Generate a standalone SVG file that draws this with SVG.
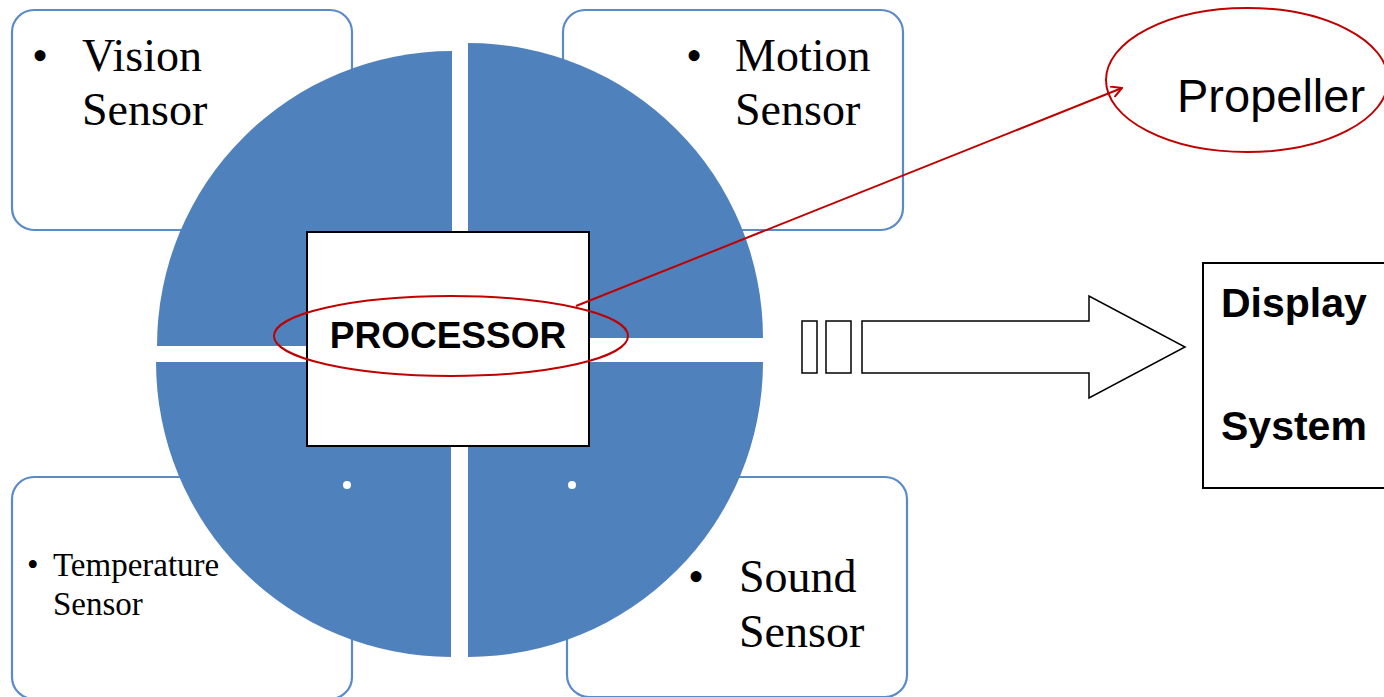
<svg xmlns="http://www.w3.org/2000/svg" width="1384" height="697" viewBox="0 0 1384 697">
  <style>
    .sbox { fill: #ffffff; stroke: #5B8BC7; stroke-width: 2.2; }
    .quad { fill: #4F81BD; }
    .serif { font-family: "Liberation Serif", "DejaVu Serif", serif; fill: #000; }
    .big { font-size: 46px; }
    .small { font-size: 33px; }
    .bold { font-family: "Liberation Sans", Arial, sans-serif; font-weight: bold; fill: #000; }
    .red { fill: none; stroke: #C00000; stroke-width: 2; }
    .blk { fill: #ffffff; stroke: #000; stroke-width: 2; }
  </style>
  <defs>
    <marker id="openArrow" markerWidth="12" markerHeight="12" refX="11" refY="6" orient="auto" markerUnits="userSpaceOnUse" viewBox="0 0 12 12">
      <path d="M0,0 L11,6 L0,12" fill="none" stroke="#C00000" stroke-width="2"/>
    </marker>
  </defs>
  <rect width="1384" height="697" fill="#ffffff"/>

  <g id="vision-sensor">
    <rect class="sbox" x="12" y="10" width="340" height="220" rx="22"/>
    <text class="serif big" x="32" y="71">•</text>
    <text class="serif big" x="82" y="71">Vision</text>
    <text class="serif big" x="82" y="125">Sensor</text>
  </g>
  <g id="motion-sensor">
    <rect class="sbox" x="563" y="10" width="340" height="220" rx="22"/>
    <text class="serif big" x="686" y="71">•</text>
    <text class="serif big" x="735" y="71">Motion</text>
    <text class="serif big" x="735" y="125">Sensor</text>
  </g>
  <g id="temperature-sensor">
    <rect class="sbox" x="12" y="477" width="340" height="222" rx="22"/>
    <text class="serif small" x="27" y="576">•</text>
    <text class="serif small" x="53" y="576">Temperature</text>
    <text class="serif small" x="53" y="615">Sensor</text>
  </g>
  <g id="sound-sensor">
    <rect class="sbox" x="567" y="477" width="340" height="220" rx="22"/>
    <text class="serif big" x="688" y="592">•</text>
    <text class="serif big" x="739" y="592">Sound</text>
    <text class="serif big" x="739" y="647">Sensor</text>
  </g>

  <g id="circle">
    <path class="quad" d="M452,346 L157,346 A295,295 0 0 1 452,51 Z"/>
    <path class="quad" d="M468,338 L468,43 A295,295 0 0 1 763,338 Z"/>
    <path class="quad" d="M451,362 L451,657 A295,295 0 0 1 156,362 Z"/>
    <path class="quad" d="M468,362 L763,362 A295,295 0 0 1 468,657 Z"/>
    <circle cx="347" cy="485" r="4" fill="#fff"/>
    <circle cx="572" cy="485" r="4" fill="#fff"/>
  </g>

  <g id="processor">
    <rect class="blk" x="307" y="232" width="282" height="214"/>
    <text class="bold" x="448" y="348" font-size="37" text-anchor="middle">PROCESSOR</text>
    <ellipse class="red" cx="451" cy="336" rx="177" ry="40"/>
  </g>

  <g id="propeller">
    <ellipse class="red" cx="1247" cy="80" rx="141" ry="72"/>
    <text x="1177" y="112" font-family="Liberation Sans, Arial, sans-serif" font-size="47" fill="#000">Propeller</text>
  </g>

  <g id="display-system">
    <rect class="blk" x="1203" y="263" width="190" height="225"/>
    <text class="bold" x="1221" y="317" font-size="41">Display</text>
    <text class="bold" x="1221" y="440" font-size="41">System</text>
  </g>

  <g id="connectors">
    <line x1="576" y1="306" x2="1122" y2="88" stroke="#C00000" stroke-width="2" marker-end="url(#openArrow)"/>
    <rect x="802" y="321" width="15" height="52" fill="#fff" stroke="#000" stroke-width="1.5"/>
    <rect x="826" y="321" width="25" height="52" fill="#fff" stroke="#000" stroke-width="1.5"/>
    <path d="M862,321 L1089,321 L1089,296 L1185,347 L1089,398 L1089,373 L862,373 Z" fill="#fff" stroke="#000" stroke-width="1.5"/>
  </g>
</svg>
